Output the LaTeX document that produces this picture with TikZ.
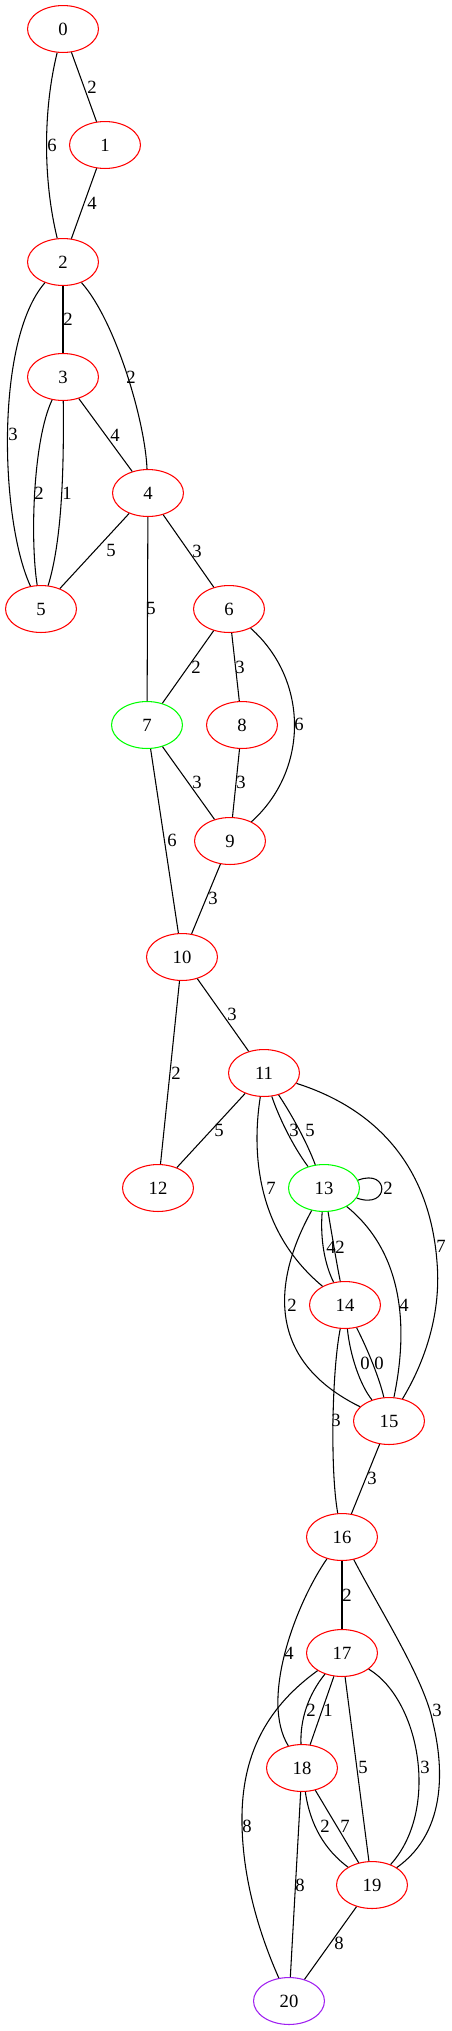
\documentclass[tikz,border=0pt]{standalone}
\usepackage{fontspec}
\setmainfont{Liberation Serif}
\usetikzlibrary{shapes.geometric}
\begin{document}
\begin{tikzpicture}[x=0.75pt,y=-0.75pt,
  vtx/.style={ellipse,draw=red,line width=0.8pt,minimum width=53.2pt,minimum height=35.2pt,inner sep=0pt,font=\fontsize{14}{16}\selectfont},
  grn/.style={vtx,draw=green},
  prp/.style={vtx,draw={rgb,255:red,160;green,32;blue,240}},
  lbl/.style={inner sep=0pt,font=\fontsize{14}{16}\selectfont},
  every path/.style={line width=0.8pt}]
\useasboundingbox (0,0) rectangle (452,2031);
% nodes
\node[vtx] (n0) at (63,29) {0};
\node[vtx] (n1) at (105,145) {1};
\node[vtx] (n2) at (63,262) {2};
\node[vtx] (n3) at (63,377) {3};
\node[vtx] (n4) at (148,493) {4};
\node[vtx] (n5) at (41,609) {5};
\node[vtx] (n6) at (229,609) {6};
\node[grn] (n7) at (147,725) {7};
\node[vtx] (n8) at (242,725) {8};
\node[vtx] (n9) at (230,841) {9};
\node[vtx] (n10) at (182,957) {10};
\node[vtx] (n11) at (264,1073) {11};
\node[vtx] (n12) at (158,1188) {12};
\node[grn] (n13) at (324,1188) {13};
\node[vtx] (n14) at (345,1305) {14};
\node[vtx] (n15) at (389,1421) {15};
\node[vtx] (n16) at (342,1537) {16};
\node[vtx] (n17) at (342,1653) {17};
\node[vtx] (n18) at (302,1768) {18};
\node[vtx] (n19) at (372,1885) {19};
\node[prp] (n20) at (289,2001) {20};
% edges
\draw (n0) -- (n1);
\draw (n0) .. controls (43,110) and (43,180) .. (n2);
\draw (n1) -- (n2);
\draw (n2) -- (n3);
\draw (n2) .. controls (-5,340) and (0,520) .. (n5);
\draw (n2) .. controls (115,320) and (145,420) .. (n4);
\draw (n3) .. controls (33,440) and (30,540) .. (n5);
\draw (n3) .. controls (64,470) and (62,540) .. (n5);
\draw (n3) -- (n4);
\draw (n4) -- (n5);
\draw (n4) -- (n7);
\draw (n4) -- (n6);
\draw (n6) -- (n7);
\draw (n6) -- (n8);
\draw (n6) .. controls (309,680) and (309,770) .. (n9);
\draw (n8) -- (n9);
\draw (n7) -- (n9);
\draw (n7) -- (n10);
\draw (n9) -- (n10);
\draw (n10) -- (n11);
\draw (n10) -- (n12);
\draw (n11) -- (n12);
\draw (n11) .. controls (278,1115) and (292,1145) .. (n13);
\draw (n11) .. controls (290,1112) and (306,1140) .. (n13);
\draw (n11) .. controls (252,1150) and (255,1230) .. (n14);
\draw (n11) .. controls (380,1110) and (430,1170) .. (437,1262) .. controls (442,1320) and (420,1370) .. (n15);
\draw (n13.13) .. controls (390,1168) and (390,1210) .. (n13.-17);
\draw (n13) .. controls (320,1240) and (325,1265) .. (n14);
\draw (n13) .. controls (332,1235) and (336,1260) .. (n14);
\draw (n13) .. controls (290,1250) and (245,1350) .. (n15);
\draw (n13) .. controls (400,1250) and (410,1320) .. (n15);
\draw (n14) .. controls (350,1355) and (360,1385) .. (n15);
\draw (n14) .. controls (368,1350) and (380,1380) .. (n15);
\draw (n14) .. controls (332,1370) and (330,1470) .. (n16);
\draw (n15) -- (n16);
\draw (n16) -- (n17);
\draw (n16) .. controls (295,1605) and (260,1700) .. (n18);
\draw (n16) .. controls (380,1610) and (425,1680) .. (433,1723) .. controls (442,1760) and (450,1830) .. (n19);
\draw (n17) .. controls (308,1695) and (300,1720) .. (n18);
\draw (n17) -- (n18);
\draw (n17) -- (n19);
\draw (n17) .. controls (420,1700) and (440,1810) .. (n19);
\draw (n17) .. controls (270,1705) and (243,1750) .. (242,1815) .. controls (241,1880) and (262,1940) .. (n20);
\draw (n18) -- (n20);
\draw (n18) .. controls (310,1825) and (325,1850) .. (n19);
\draw (n18) -- (n19);
\draw (n19) -- (n20);
% labels
\node[lbl] (l01) at (92,87) {2};
\node[lbl] (l02) at (52,145) {6};
\node[lbl] (l12) at (92,203) {4};
\node[lbl] (l23) at (68,319) {2};
\node[lbl] (l25) at (13,434) {3};
\node[lbl] (l24) at (131,377) {2};
\node[lbl] (l35a) at (39,493) {2};
\node[lbl] (l35b) at (67,493) {1};
\node[lbl] (l34) at (115,435) {4};
\node[lbl] (l45) at (111,550) {5};
\node[lbl] (l47) at (151,608) {5};
\node[lbl] (l46) at (197,551) {3};
\node[lbl] (l67) at (196,667) {2};
\node[lbl] (l68) at (240,667) {3};
\node[lbl] (l69) at (299,724) {6};
\node[lbl] (l89) at (241,782) {3};
\node[lbl] (l79) at (197,782) {3};
\node[lbl] (l710) at (172,840) {6};
\node[lbl] (l910) at (213,898) {3};
\node[lbl] (l1011) at (232,1014) {3};
\node[lbl] (l1012) at (176,1073) {2};
\node[lbl] (l1112) at (219,1130) {5};
\node[lbl] (l1113a) at (294,1130) {3};
\node[lbl] (l1113b) at (310,1130) {5};
\node[lbl] (l1114) at (271,1188) {7};
\node[lbl] (l1115) at (441,1246) {7};
\node[lbl] (l1313) at (388,1188) {2};
\node[lbl] (l1314a) at (331,1247) {4};
\node[lbl] (l1314b) at (340,1247) {2};
\node[lbl] (l1315a) at (292,1305) {2};
\node[lbl] (l1315b) at (404,1305) {4};
\node[lbl] (l1415a) at (365,1363) {0};
\node[lbl] (l1415b) at (379,1363) {0};
\node[lbl] (l1416) at (336,1420) {3};
\node[lbl] (l1516) at (372,1478) {3};
\node[lbl] (l1617) at (347,1595) {2};
\node[lbl] (l1618) at (289,1653) {4};
\node[lbl] (l1619) at (437,1710) {3};
\node[lbl] (l1718a) at (311,1710) {2};
\node[lbl] (l1718b) at (328,1710) {1};
\node[lbl] (l1719a) at (363,1767) {5};
\node[lbl] (l1719b) at (425,1767) {3};
\node[lbl] (l1720) at (247,1826) {8};
\node[lbl] (l1820) at (300,1885) {8};
\node[lbl] (l1819a) at (325,1826) {2};
\node[lbl] (l1819b) at (345,1826) {7};
\node[lbl] (l1920) at (339,1943) {8};
\end{tikzpicture}
\end{document}
